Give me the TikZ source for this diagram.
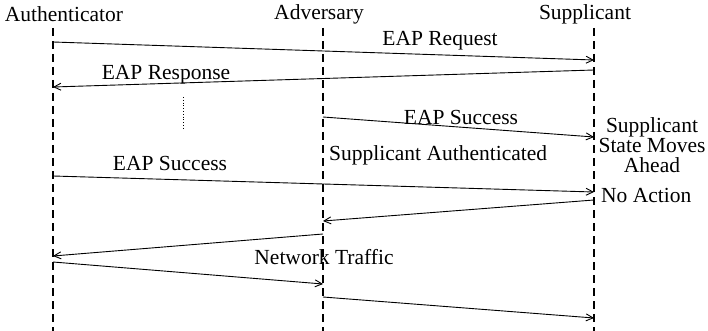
\documentclass[tikz,border=0pt]{standalone}
\usepackage{fontspec}
\setmainfont{Liberation Serif}
\usetikzlibrary{arrows.meta}
\begin{document}
\begin{tikzpicture}[x=1pt,y=-1pt,
  lbl/.style={inner sep=0pt,font=\fontsize{21.5}{20}\selectfont},
  lifeline/.style={line width=2pt,dash pattern=on 8pt off 5pt},
  msg/.style={line width=0.9pt,-{Straight Barb[length=7pt,width=7pt,line width=0.9pt]}}]
\useasboundingbox (0,0) rectangle (708,331);
% participants
\node[lbl] (auth) at (64,14) {Authenticator};
\node[lbl] (adv)  at (319,14) {Adversary};
\node[lbl] (supp) at (585,14) {Supplicant};
% lifelines
\coordinate (authTop) at (53,28);  \coordinate (authBot) at (53,331);
\coordinate (advTop)  at (323,28); \coordinate (advBot)  at (323,331);
\coordinate (suppTop) at (594,28); \coordinate (suppBot) at (594,331);
\draw[lifeline] (authTop) -- (authBot);
\draw[lifeline] (advTop) -- (advBot);
\draw[lifeline] (suppTop) -- (suppBot);
% message end points
\coordinate (a1) at (53,42);   \coordinate (s1) at (594,60);
\coordinate (s2) at (594,70);  \coordinate (a2) at (53,87);
\coordinate (v3) at (323,117); \coordinate (s3) at (594,137);
\coordinate (a4) at (53,176);  \coordinate (s4) at (594,192);
\coordinate (s5) at (594,200); \coordinate (v5) at (323,221);
\coordinate (v6) at (323,234); \coordinate (a6) at (53,256);
\coordinate (a7) at (53,262);  \coordinate (v7) at (323,284);
\coordinate (v8) at (323,297); \coordinate (s8) at (594,318);
% messages
\draw[msg] (a1) -- (s1);
\draw[msg] (s2) -- (a2);
\draw[msg] (v3) -- (s3);
\draw[msg] (a4) -- (s4);
\draw[msg] (s5) -- (v5);
\draw[msg] (v6) -- (a6);
\draw[msg] (a7) -- (v7);
\draw[msg] (v8) -- (s8);
% elided exchange
\coordinate (dotTop) at (183,97); \coordinate (dotBot) at (183,128);
\draw[dotted,line width=0.8pt] (dotTop) -- (dotBot);
% labels
\node[lbl] (l1) at (440,41) {EAP Request};
\node[lbl] (l2) at (166,75) {EAP Response};
\node[lbl] (l3) at (461,117) {EAP Success};
\node[lbl,anchor=west] (l4) at (329,155) {Supplicant Authenticated};
\node[lbl,align=center] (l5) at (652,145) {Supplicant\\State Moves\\Ahead};
\node[lbl] (l6) at (170,163) {EAP Success};
\node[lbl,anchor=west] (l7) at (601,195) {No Action};
\node[lbl] (l8) at (324,257) {Network Traffic};
\end{tikzpicture}
\end{document}
